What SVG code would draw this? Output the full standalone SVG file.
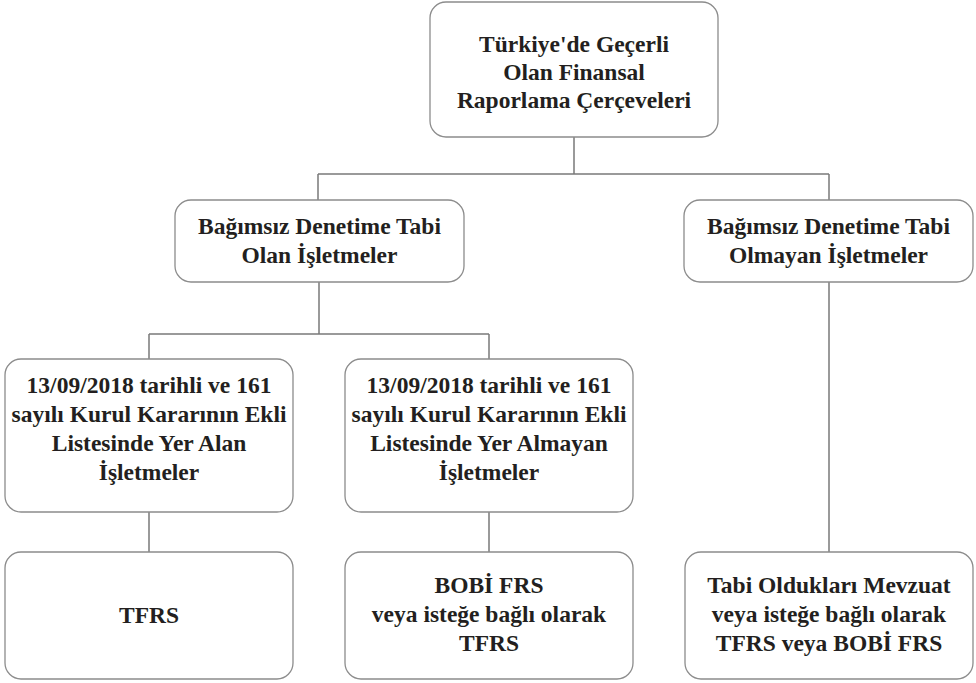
<svg xmlns="http://www.w3.org/2000/svg" width="976" height="683" viewBox="0 0 976 683">
<style>
.box{fill:#fff;stroke:#8c8c8c;stroke-width:1.3}
.c{fill:none;stroke:#7a7a7a;stroke-width:1.5}
</style>
<rect width="976" height="683" fill="#fff"/>
<g id="connectors">
<path class="c" d="M574,137V174M318,174H829M318,174V200M829,174V200"/>
<path class="c" d="M319,282V334M149,334H489M149,334V359M489,334V359"/>
<path class="c" d="M149,512V552M489,512V552M829,282V552"/>
</g>
<g font-family="Liberation Serif, serif" font-weight="bold" font-size="23.5" fill="#231f20" text-anchor="middle">
<g id="root">
<rect class="box" x="430" y="2" width="288" height="135" rx="16"/>
<text x="574" y="52">Türkiye'de Geçerli</text>
<text x="574" y="80">Olan Finansal</text>
<text x="574" y="108">Raporlama Çerçeveleri</text>
</g>
<g id="audited">
<rect class="box" x="175" y="200" width="289" height="82" rx="16"/>
<text x="319.5" y="234">Bağımsız Denetime Tabi</text>
<text x="319.5" y="263">Olan İşletmeler</text>
</g>
<g id="not-audited">
<rect class="box" x="684" y="200" width="289" height="82" rx="16"/>
<text x="828.5" y="234">Bağımsız Denetime Tabi</text>
<text x="828.5" y="263">Olmayan İşletmeler</text>
</g>
<g id="listed">
<rect class="box" x="5" y="359" width="288" height="153" rx="16"/>
<text x="149" y="393">13/09/2018 tarihli ve 161</text>
<text x="149" y="422">sayılı Kurul Kararının Ekli</text>
<text x="149" y="451">Listesinde Yer Alan</text>
<text x="149" y="480">İşletmeler</text>
</g>
<g id="not-listed">
<rect class="box" x="345" y="359" width="288" height="153" rx="16"/>
<text x="489" y="393">13/09/2018 tarihli ve 161</text>
<text x="489" y="422">sayılı Kurul Kararının Ekli</text>
<text x="489" y="451">Listesinde Yer Almayan</text>
<text x="489" y="480">İşletmeler</text>
</g>
<g id="tfrs">
<rect class="box" x="5" y="552" width="288" height="127" rx="16"/>
<text x="149" y="623">TFRS</text>
</g>
<g id="bobi">
<rect class="box" x="345" y="552" width="288" height="127" rx="16"/>
<text x="489" y="593">BOBİ FRS</text>
<text x="489" y="622">veya isteğe bağlı olarak</text>
<text x="489" y="651">TFRS</text>
</g>
<g id="legislation">
<rect class="box" x="685" y="552" width="288" height="127" rx="16"/>
<text x="829" y="593">Tabi Oldukları Mevzuat</text>
<text x="829" y="622">veya isteğe bağlı olarak</text>
<text x="829" y="651">TFRS veya BOBİ FRS</text>
</g>
</g>
</svg>
